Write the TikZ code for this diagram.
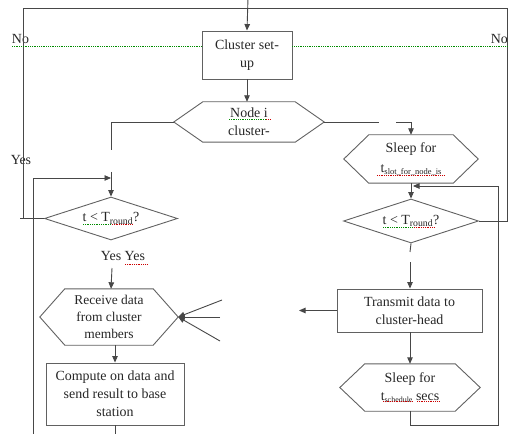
\documentclass[tikz,border=0pt]{standalone}
\usepackage{fontspec}
\setmainfont{Liberation Serif}
\usetikzlibrary{arrows.meta,shapes.geometric}
\newcommand\hexoutline[2]{\draw[shapeline] (#1.west) -- ([xshift=#2]#1.north west) -- ([xshift=-#2]#1.north east) -- (#1.east) -- ([xshift=-#2]#1.south east) -- ([xshift=#2]#1.south west) -- cycle;}
\begin{document}
\begin{tikzpicture}[x=1bp,y=-1bp,
  shapeline/.style={draw=black!62, line width=0.9bp},
  conn/.style={draw=black!72, line width=0.9bp},
  arr/.style={conn, -{Triangle[length=6.5bp,width=5.5bp]}},
  txt/.style={text=black!85, align=center, inner sep=0pt, font=\rmfamily\fontsize{14}{18}\selectfont},
  boxnode/.style={txt, shapeline, rectangle},
  hexnode/.style={txt, rectangle},
  dianode/.style={txt, shapeline, diamond, aspect=3.1},
  lbl/.style={txt},
  spellg/.style={draw=green!55!black, line width=0.7bp, dash pattern=on 1bp off 0.8bp},
  spellr/.style={draw=red!80!black, line width=0.7bp, dash pattern=on 1bp off 0.8bp},
  ]
\useasboundingbox (0,0) rectangle (508,434);
\clip (0,0) rectangle (508,434);

% nodes
\node[boxnode, minimum width=90bp, minimum height=48bp] (cs) at (247,55) {Cluster set-\\up};
\node[hexnode, minimum width=150bp, minimum height=40bp] (ni) at (249,122) {Node i\\cluster-};
\hexoutline{ni}{29bp}
\node[dianode, minimum width=133bp, minimum height=43bp] (ld) at (111,218.5) {t < T\textsubscript{round}?};
\node[hexnode, minimum width=138bp, minimum height=56bp, font=\rmfamily\fontsize{13.5}{17}\selectfont] (rcv) at (109,317) {Receive data\\from cluster\\members};
\hexoutline{rcv}{25bp}
\node[boxnode, minimum width=138bp, minimum height=62bp] (cmp) at (115,394) {Compute on data and\\send result to base\\station};

\node[hexnode, minimum width=134bp, minimum height=48bp] (sl1) at (411,159) {Sleep for\\[2bp]t{\fontsize{8.5}{9}\selectfont\raisebox{-2.5bp}{slot\_for\_node\_is}}};
\hexoutline{sl1}{25bp}
\node[dianode, minimum width=135bp, minimum height=44bp] (rd) at (411,221) {t < T\textsubscript{round}?};
\node[boxnode, minimum width=145bp, minimum height=43bp] (tx) at (409.5,310.5) {Transmit data to\\cluster-head};
\node[hexnode, minimum width=140bp, minimum height=47bp] (sl2) at (410,387.5) {Sleep for\\t{\fontsize{8}{9}\selectfont\raisebox{-2.5bp}{schedule}} secs};
\hexoutline{sl2}{25bp}

% labels
\node[lbl] (noL) at (20.5,39) {No};
\node[lbl, anchor=east] (noR) at (508,39) {No};
\node[lbl] (yesL) at (21,160) {Yes};
\node[lbl] (yesyes) at (123,256) {Yes Yes};

% coordinates
\coordinate (top) at (248,-2);
\coordinate (tl) at (23,8);
\coordinate (tr) at (507,8);
\coordinate (lfar) at (20,218.5);
\coordinate (lcorner) at (23,218.5);
\coordinate (rcorner) at (507,221);
\coordinate (nil1) at (111,122);
\coordinate (nil2) at (111,150);
\coordinate (ldin) at (111,172);
\coordinate (loopL) at (33,178);
\coordinate (loopLbot) at (33,436);
\coordinate (loopLtip) at (111,178);
\coordinate (yesarr) at (112,268);
\coordinate (cmpbot) at (115,436);
\coordinate (in1) at (222,300);
\coordinate (in2) at (220,317);
\coordinate (in3) at (220,341);
\coordinate (nir1) at (379,122);
\coordinate (nir2) at (396,122);
\coordinate (nir3) at (411,122);
\coordinate (rdo1) at (410,252);
\coordinate (rdo2) at (410,262);
\coordinate (txout) at (299,310.5);
\coordinate (lp1) at (410,425);
\coordinate (lp2) at (498,425);
\coordinate (lp3) at (498,186);
\coordinate (lp4) at (413,186);

% connectors
\draw[arr] (top) -- (cs.north);
\draw[arr] (cs.south) -- (cs.south |- ni.north);
\draw[conn] (ni.west) -- (nil1) -- (nil2);
\draw[arr] (ldin) -- (ld.north);
\draw[conn] (loopLbot) -- (loopL);
\draw[arr] (loopL) -- (loopLtip);
\draw[conn] (lfar) -- (ld.west);
\draw[conn] (lcorner) -- (tl) -- (tr) -- (rcorner) -- (rd.east);
\draw[arr] (yesarr) -- (ld.south |- rcv.north);
\draw[arr] (rcv.south -| cmp.north) -- (cmp.north);
\draw[conn] (cmp.south) -- (cmpbot);
\draw[arr] (in1) -- (rcv.east);
\draw[arr] (in2) -- (rcv.east);
\draw[arr] (in3) -- (rcv.east);
\draw[conn] (ni.east) -- (nir1);
\draw[arr] (nir2) -- (nir3) -- (sl1.north);
\draw[arr] (sl1.south) -- (rd.north);
\draw[conn] (rd.south) -- (rdo1);
\draw[arr] (rdo2) -- (rdo2 |- tx.north);
\draw[arr] (tx.west) -- (txout);
\draw[arr] (tx.south -| sl2.north) -- (sl2.north);
\draw[arr] (sl2.south) -- (lp1) -- (lp2) -- (lp3) -- (lp4);

% proofing marks
\draw[spellg] (12,46) -- (cs.west |- 0,46);
\draw[spellg] (cs.east |- 0,46) -- (508,46);
\draw[spellg] (229,119) -- (266,119);
\draw[spellr] (266,119) -- (271,119);
\draw[spellg] (83,224) -- (112,224);
\draw[spellr] (112,224) -- (132,224);
\draw[spellg] (383,227) -- (414,227);
\draw[spellr] (414,227) -- (434,227);
\draw[spellr] (125,264) -- (147,264);
\draw[spellr] (377,175) -- (444,175);
\draw[spellr] (383,401) -- (413,401);
\draw[spellr] (417,401) -- (440,401);
\end{tikzpicture}
\end{document}
